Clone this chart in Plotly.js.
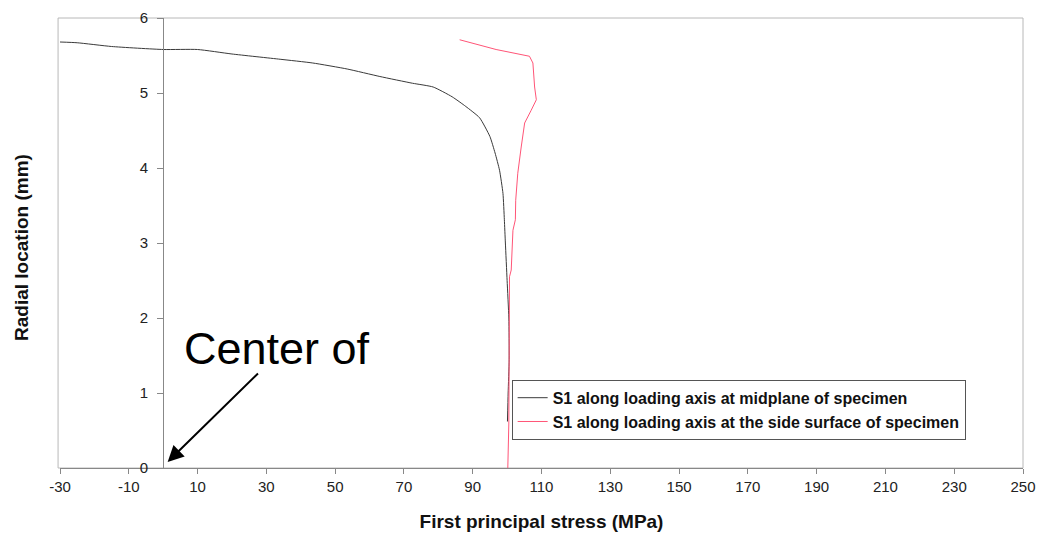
<!DOCTYPE html>
<html>
<head>
<meta charset="utf-8">
<script src="https://cdn.plot.ly/plotly-3.0.1.min.js"></script>
<style>html,body{margin:0;padding:0;background:#fff;}#chart{width:1044px;height:544px;}</style>
</head>
<body>
<div id="chart"></div>
<script>
// Series 1: S1 along loading axis at midplane of specimen
const midStress = [-30, -25, -15, 0, 10, 20, 34, 43.5, 53.5, 63, 72.5, 78.5, 84, 88, 92, 95, 96.5, 97.8, 98.8, 99.2, 99.5, 100, 100.5, 100.6, 100.3, 100.1];
const midRadial = [5.68, 5.67, 5.62, 5.58, 5.58, 5.52, 5.45, 5.40, 5.32, 5.22, 5.13, 5.08, 4.95, 4.82, 4.67, 4.42, 4.20, 3.97, 3.66, 3.31, 3.00, 2.50, 2.00, 1.45, 1.00, 0.62];
// Series 2: S1 along loading axis at the side surface of specimen
const sideStress = [86.2, 96.8, 106.5, 107.5, 108, 108.5, 107, 105.1, 104.1, 103.1, 102.5, 102.4, 101.7, 101.2, 100.7, 100.7, 100.5, 100.2];
const sideRadial = [5.71, 5.58, 5.49, 5.40, 5.08, 4.91, 4.77, 4.60, 4.28, 3.93, 3.57, 3.31, 3.17, 2.64, 2.55, 1.17, 0.60, 0];

const seriesNames = ["S1 along loading axis at midplane of specimen", "S1 along loading axis at the side surface of specimen"];
const xTickVals = [-30, -10, 10, 30, 50, 70, 90, 110, 130, 150, 170, 190, 210, 230, 250];
const xTickText = ["-30", "-10", "10", "30", "50", "70", "90", "110", "130", "150", "170", "190", "210", "230", "250"];
const yTickVals = [0, 1, 2, 3, 4, 5, 6];
const xTitle = "First principal stress (MPa)";
const yTitle = "Radial location (mm)";
const noteText = "Center of";
const notePos = [33, 1.6];
const arrowHead = [1.3, 0.08];
const arrowTail = [28, 1.28];

const xRange = [-30, 250];
const yRange = [0, 6];
const font = "Liberation Sans, Arial, sans-serif";

const traces = [
  {x: midStress, y: midRadial, mode: "lines", name: seriesNames[0],
   line: {color: "#3a3a3a", width: 1, shape: "spline", smoothing: 0.5}},
  {x: sideStress, y: sideRadial, mode: "lines", name: seriesNames[1],
   line: {color: "#ff5577", width: 1}}
];

const layout = {
  width: 1044, height: 544,
  margin: {l: 60, r: 21, t: 18, b: 76},
  paper_bgcolor: "#ffffff", plot_bgcolor: "#ffffff",
  font: {family: font, color: "#111", size: 15},
  showlegend: true,
  legend: {x: 0.469, y: 0.196, xanchor: "left", yanchor: "top",
    bordercolor: "#555", borderwidth: 1, bgcolor: "rgba(255,255,255,0)",
    font: {family: font, size: 16, color: "#111", weight: "bold"},
    tracegroupgap: 0, itemwidth: 30},
  xaxis: {range: xRange, tickvals: xTickVals, ticktext: xTickText,
    showgrid: false, zeroline: false, showline: true, linecolor: "#888", linewidth: 1,
    ticks: "outside", ticklen: 5, tickcolor: "#888",
    tickfont: {family: font, size: 15, color: "#222"},
    title: {text: xTitle, font: {family: font, size: 19, color: "#111", weight: "bold"}, standoff: 20}},
  yaxis: {range: yRange, tickvals: yTickVals, anchor: "free",
    position: (0 - xRange[0]) / (xRange[1] - xRange[0]),
    showgrid: false, zeroline: false, showline: true, linecolor: "#888", linewidth: 1,
    ticks: "outside", ticklen: 6, tickcolor: "#888", ticklabelstandoff: 6,
    tickfont: {family: font, size: 15, color: "#222"},
    title: {text: ""}},
  shapes: [
    {type: "rect", xref: "paper", yref: "paper", x0: -0.002, x1: 1, y0: 0, y1: 1,
     line: {color: "#b8b8b8", width: 1}, layer: "below"}
  ],
  annotations: [
    {xref: "paper", yref: "paper", x: -0.04, y: 0.49, xanchor: "center", yanchor: "middle",
     text: yTitle, textangle: -90, showarrow: false,
     font: {family: font, size: 19, color: "#111", weight: "bold"}},
    {x: notePos[0], y: notePos[1], xref: "x", yref: "y", text: noteText, showarrow: false,
     font: {family: font, size: 45, color: "#000"}},
    {x: arrowHead[0], y: arrowHead[1], ax: arrowTail[0], ay: arrowTail[1],
     xref: "x", yref: "y", axref: "x", ayref: "y", text: "", showarrow: true,
     arrowhead: 2, arrowsize: 1.6, arrowwidth: 2, arrowcolor: "#000"}
  ]
};

Plotly.newPlot("chart", traces, layout, {displayModeBar: false, staticPlot: true});
</script>
</body>
</html>
